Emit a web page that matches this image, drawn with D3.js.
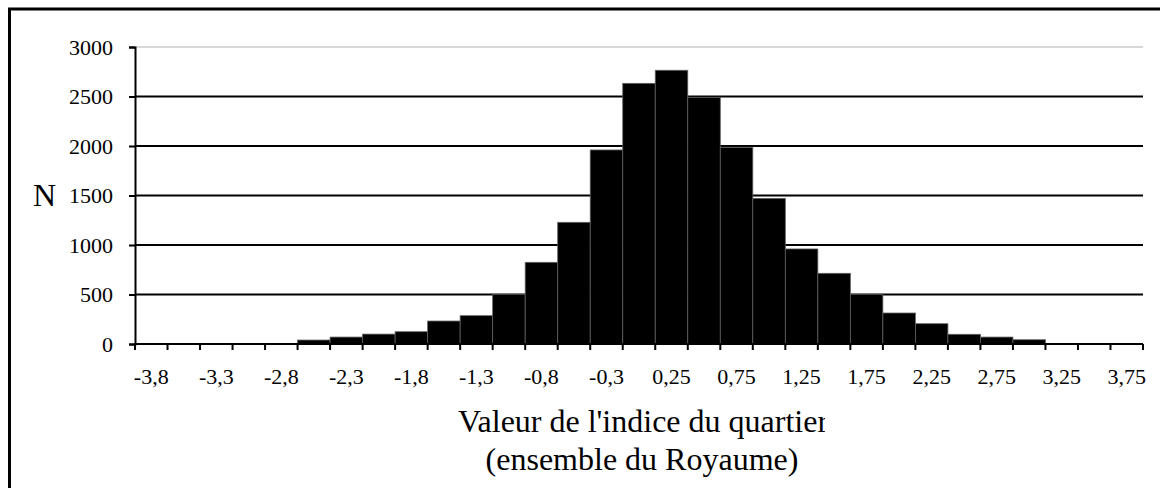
<!DOCTYPE html>
<html>
<head>
<meta charset="utf-8">
<script src="https://cdn.jsdelivr.net/npm/d3@7"></script>
<style>
  body { margin: 0; background: #fff; }
  svg { display: block; font-family: "Liberation Serif", "Times New Roman", serif; }
</style>
</head>
<body>
<svg id="chart"></svg>
<script>
// counts per bin (31 bins of 0.25)
var counts = [0, 0, 0, 0, 0, 40, 70, 100, 124, 232, 286, 502, 825, 1229, 1960,
              2633, 2765, 2492, 1987, 1471, 960, 714, 502, 313, 205, 98, 70, 43, 0, 0, 0];
// labels shown under every other bin
var tickLabels = ["-3,8", "-3,3", "-2,8", "-2,3", "-1,8", "-1,3", "-0,8", "-0,3",
                  "0,25", "0,75", "1,25", "1,75", "2,25", "2,75", "3,25", "3,75"];
var yTicks = [0, 500, 1000, 1500, 2000, 2500, 3000];
var yTitle = "N";
var xTitle = ["Valeur de l'indice du quartier", "(ensemble du Royaume)"];

var width = 1160, height = 488;
var plotLeft = 135, plotRight = 1143, plotTop = 47, plotBottom = 344;

var svg = d3.select("#chart").attr("width", width).attr("height", height);

// outer frame (only top and left edges are inside the picture)
svg.append("rect")
  .attr("x", 9.5).attr("y", 9).attr("width", 1200).attr("height", 600)
  .attr("fill", "none").attr("stroke", "#000").attr("stroke-width", 3);

var bins = d3.range(counts.length);
var x = d3.scaleBand().domain(bins).range([plotLeft, plotRight]).padding(0);
var y = d3.scaleLinear().domain([0, 3000]).range([plotBottom, plotTop]);

// grid lines
svg.append("g").selectAll("line")
  .data(yTicks.filter(function(d) { return d > 0; }))
  .join("line")
    .attr("x1", plotLeft).attr("x2", plotRight)
    .attr("y1", function(d) { return y(d); })
    .attr("y2", function(d) { return y(d); })
    .attr("stroke", function(d) { return d == 3000 ? "#d8d8d8" : "#000"; })
    .attr("stroke-width", 2);

// bars
svg.append("g").selectAll("rect")
  .data(bins.filter(function(i) { return counts[i] > 0; }))
  .join("rect")
    .attr("x", function(i) { return x(i); })
    .attr("y", function(i) { return y(counts[i]); })
    .attr("width", x.bandwidth())
    .attr("height", function(i) { return y(0) - y(counts[i]); })
    .attr("fill", "#000")
    .attr("stroke", "#606060")
    .attr("stroke-width", 0.8);

// y axis
var yAxis = svg.append("g")
  .attr("transform", "translate(" + plotLeft + ",0)")
  .call(d3.axisLeft(y).tickValues(yTicks).tickSize(6).tickPadding(16).tickFormat(d3.format("d")));
yAxis.select(".domain").attr("stroke-width", 2);
yAxis.selectAll(".tick line").attr("stroke-width", 2);
yAxis.selectAll("text").attr("font-size", 22).attr("fill", "#000")
  .style("font-family", "'Liberation Serif', 'Times New Roman', serif");

// x axis: labels every other bin, tick marks at every bin edge
var xAxis = svg.append("g")
  .attr("transform", "translate(0," + plotBottom + ")")
  .call(d3.axisBottom(x)
    .tickValues(bins.filter(function(i) { return i % 2 == 0; }))
    .tickSize(0).tickPadding(24)
    .tickFormat(function(i) { return tickLabels[i / 2]; }));
xAxis.select(".domain").attr("stroke-width", 2).attr("d", "M" + plotLeft + ",0H" + plotRight);
xAxis.selectAll("text").attr("font-size", 22).attr("fill", "#000")
  .style("font-family", "'Liberation Serif', 'Times New Roman', serif");

var edges = bins.map(function(i) { return x(i); }).concat([plotRight]);
xAxis.append("g").selectAll("line")
  .data(edges)
  .join("line")
    .attr("x1", function(d) { return d; }).attr("x2", function(d) { return d; })
    .attr("y1", 0).attr("y2", 6)
    .attr("stroke", "#000").attr("stroke-width", 2);

// titles
svg.append("text")
  .attr("x", 33).attr("y", 206)
  .attr("font-size", 32)
  .text(yTitle);

// the first title line is cut off at its right end in the original
svg.append("clipPath").attr("id", "titleClip")
  .append("rect").attr("x", 0).attr("y", 0).attr("width", 825).attr("height", height);

svg.append("text")
  .attr("x", 643).attr("y", 432)
  .attr("text-anchor", "middle")
  .attr("font-size", 32)
  .attr("clip-path", "url(#titleClip)")
  .text(xTitle[0]);

svg.append("text")
  .attr("x", 642).attr("y", 470)
  .attr("text-anchor", "middle")
  .attr("font-size", 32)
  .text(xTitle[1]);
</script>
</body>
</html>
